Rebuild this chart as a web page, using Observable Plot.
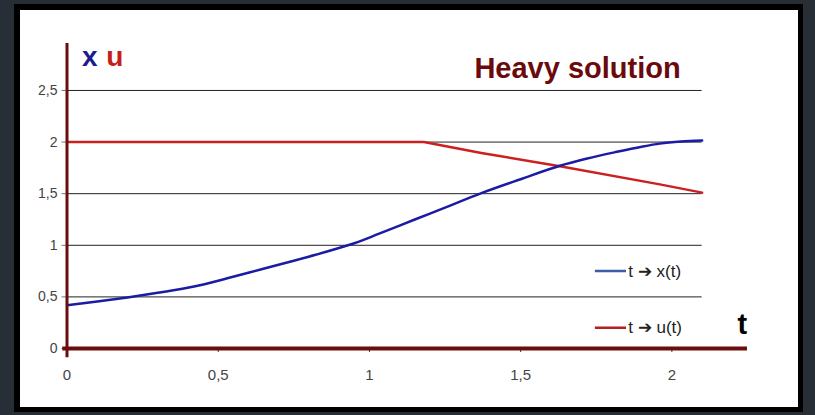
<!DOCTYPE html>
<html>
<head>
<meta charset="utf-8">
<script src="https://cdn.jsdelivr.net/npm/d3@7"></script>
<script src="https://cdn.jsdelivr.net/npm/@observablehq/plot@0.6"></script>
<style>
  html, body { margin: 0; padding: 0; background: #272e35; width: 815px; height: 415px; overflow: hidden; }
  #panel { position: absolute; left: 14px; top: 4px; width: 778px; height: 397px;
           background: #fff; border-style: solid; border-color: #000;
           border-width: 6px 5px 5px 6px; }
  #panel svg { position: absolute; left: 0; top: 0; }
</style>
</head>
<body>
<div id="panel"></div>
<script>
// Series
const tX = [0, 0.1, 0.2, 0.3, 0.42, 0.53, 0.64, 0.75, 0.86, 0.95, 1.03, 1.15, 1.25, 1.37, 1.5, 1.63, 1.72, 1.81, 1.9, 1.96, 2.03, 2.1];
const xVals = [0.42, 0.455, 0.495, 0.54, 0.60, 0.68, 0.765, 0.85, 0.94, 1.02, 1.11, 1.25, 1.365, 1.505, 1.64, 1.77, 1.84, 1.90, 1.955, 1.985, 2.005, 2.015];
const tU = [0, 0.5, 1.0, 1.18, 1.37, 1.63, 1.96, 2.1];
const uVals = [2, 2, 2, 2, 1.895, 1.765, 1.59, 1.51];

const xTicks = [0, 0.5, 1, 1.5, 2];
const yTicks = [0, 0.5, 1, 1.5, 2, 2.5];
const gridValues = [0.5, 1, 1.5, 2, 2.5];
const fmt = d => String(d).replace(".", ",");

const xData = tX.map((t, i) => ({t, v: xVals[i]}));
const uData = tU.map((t, i) => ({t, v: uVals[i]}));

// legend entries (placement in data space)
const legendLabels = ["t \u2794 x(t)", "t \u2794 u(t)"];
const legendColors = ["#3b5ea6", "#b3201f"];
const legendY = [0.75, 0.2];
const legend = legendLabels.map((label, i) => ({label, color: legendColors[i], y: legendY[i]}));

const maroon = "#6a0d0d";
const blue = "#1b1ba3";
const red = "#cc2020";

const chart = Plot.plot({
  width: 778,
  height: 397,
  marginLeft: 46.5,
  marginRight: 51,
  marginTop: 33,
  marginBottom: 59,
  x: {domain: [0, 2.25]},
  y: {domain: [0, 2.955]},
  style: {fontFamily: "'Liberation Sans Narrow', 'Liberation Sans', Arial, sans-serif", background: "transparent"},
  marks: [
    Plot.ruleY(gridValues, {x1: 0, x2: 2.1, stroke: "#222", strokeWidth: 1}),
    Plot.axisY({ticks: yTicks, tickFormat: fmt, tickSize: 5, tickPadding: 4.5, fontSize: 14, fill: "#444", stroke: "#777", label: null}),
    Plot.axisX({ticks: xTicks, tickFormat: fmt, tickSize: 4, tickPadding: 16.5, fontSize: 15, fill: "#444", stroke: "#333", label: null}),
    Plot.line(uData, {x: "t", y: "v", stroke: red, strokeWidth: 2.5}),
    Plot.line(xData, {x: "t", y: "v", stroke: blue, strokeWidth: 2.5, curve: "monotone-x"}),
    Plot.ruleY([0], {x1: -0.014, x2: 2.25, stroke: maroon, strokeWidth: 4}),
    Plot.ruleX([0], {y1: -0.09, y2: 2.955, stroke: maroon, strokeWidth: 3}),
    Plot.ruleY(legend, {y: "y", x1: 1.747, x2: 1.85, stroke: "color", strokeWidth: 2.5}),
    Plot.text(legend, {x: 1.856, y: "y", text: "label", textAnchor: "start", fontSize: 17, fill: "#222"}),
    Plot.text(["t"], {x: 2.233, y: 0.23, fontSize: 29, fontWeight: "bold", fill: "#000", fontFamily: "'Liberation Sans', Arial, sans-serif"}),
    Plot.text(["x"], {x: 0.05, y: 2.82, textAnchor: "start", fontSize: 28, fontWeight: "bold", fill: "#1c1c8e", fontFamily: "'Liberation Sans', Arial, sans-serif"}),
    Plot.text(["u"], {x: 0.13, y: 2.82, textAnchor: "start", fontSize: 28, fontWeight: "bold", fill: "#c52018", fontFamily: "'Liberation Sans', Arial, sans-serif"}),
    Plot.text(["Heavy solution"], {x: 1.347, y: 2.713, textAnchor: "start", fontSize: 29, fontWeight: "bold", fill: "#6b0a0a", fontFamily: "'Liberation Sans', Arial, sans-serif"})
  ]
});
document.getElementById("panel").appendChild(chart);
</script>
</body>
</html>
